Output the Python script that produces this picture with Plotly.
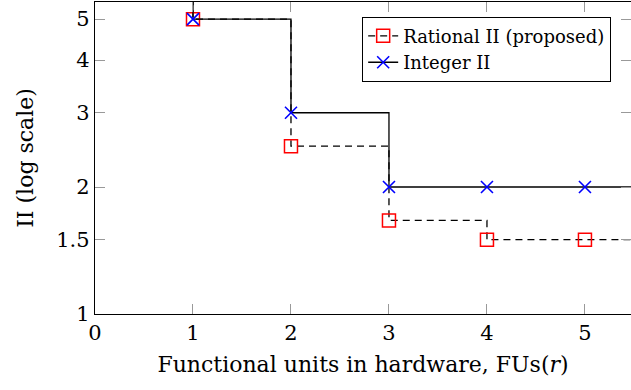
import plotly.graph_objects as go

# Data
fus = [0, 1, 2, 3, 4, 5, 6]
rational_ii = [10, 5, 2.5, 5/3, 1.5, 1.5, 1.5]
integer_ii = [10, 5, 3, 2, 2, 2, 2]
x_ticks = [0, 1, 2, 3, 4, 5]
y_ticks = [1, 1.5, 2, 3, 4, 5]
y_tick_labels = ["1", "1.5", "2", "3", "4", "5"]

FONT = "DejaVu Serif"

fig = go.Figure()
fig.add_trace(go.Scatter(
    x=fus, y=rational_ii, mode="lines+markers", name="Rational II (proposed)",
    line=dict(color="black", width=1.3, dash="7px,5px", shape="hv"),
    marker=dict(symbol="square-open", size=13, color="red", line=dict(width=1.5, color="red")),
))
fig.add_trace(go.Scatter(
    x=fus, y=integer_ii, mode="lines+markers", name="Integer II",
    line=dict(color="black", width=1.3, shape="hv"),
    marker=dict(symbol="x-thin-open", size=12, color="blue", line=dict(width=1.6, color="blue")),
))

fig.update_layout(
    width=631, height=390,
    margin=dict(l=95, r=0, t=2, b=76, autoexpand=False),
    paper_bgcolor="white", plot_bgcolor="white",
    font=dict(family=FONT, color="black", size=20),
    showlegend=True,
    legend=dict(
        x=0.963, y=0.953, xanchor="right", yanchor="top",
        bordercolor="black", borderwidth=1, bgcolor="white",
        font=dict(family=FONT, size=18),
        tracegroupgap=0, itemwidth=30,
    ),
    xaxis=dict(
        range=[0, 5.47], tickvals=x_ticks, ticks="inside", ticklen=10,
        tickcolor="#999", tickwidth=1, showgrid=False, zeroline=False,
        showline=True, linecolor="black", linewidth=1.3, mirror="ticks",
        tickfont=dict(family=FONT, size=21), automargin=False,
        title=dict(text="Functional units in hardware, FUs(<i>r</i>)", font=dict(family=FONT, size=22), standoff=12),
    ),
    yaxis=dict(
        type="log", range=[0, 0.7396], tickvals=y_ticks, ticktext=y_tick_labels,
        ticks="inside", ticklen=10, tickcolor="#999", tickwidth=1,
        showgrid=False, zeroline=False, automargin=False,
        showline=True, linecolor="black", linewidth=1.3, mirror="ticks",
        tickfont=dict(family=FONT, size=21),
        title=dict(text="II (log scale)", font=dict(family=FONT, size=22), standoff=16),
    ),
)

fig.write_html("out.html", config={"displayModeBar": False},
               post_script="document.body.style.margin='0';")
